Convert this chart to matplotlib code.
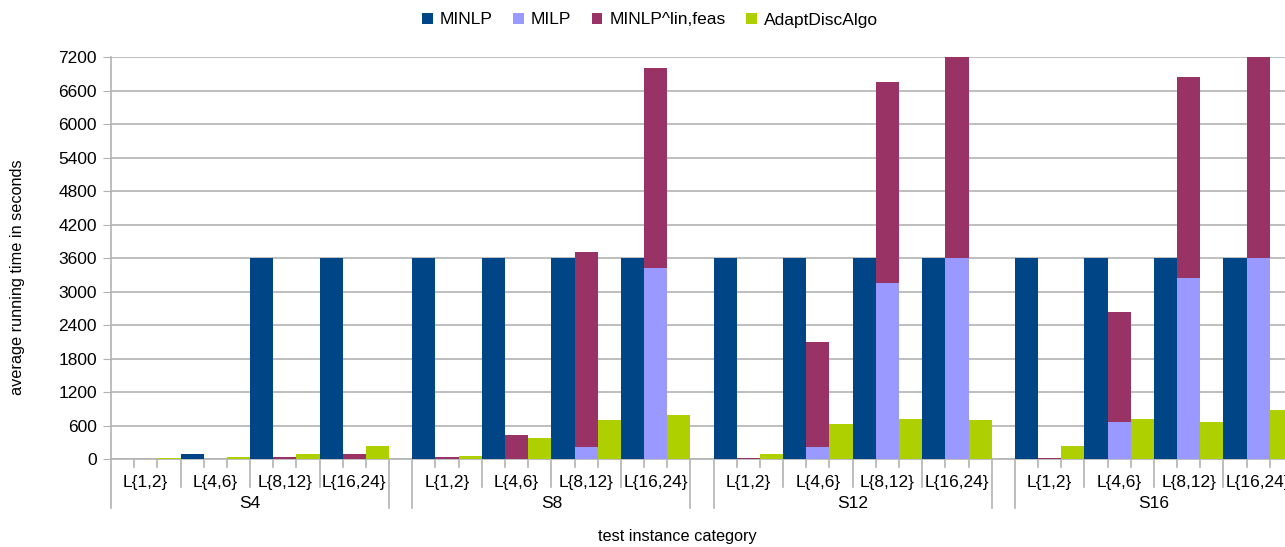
import numpy as np
import matplotlib.pyplot as plt

plt.rcParams['font.family'] = ['Liberation Sans', 'DejaVu Sans']

# Kategorien
gruppen = ["S4", "S8", "S12", "S16"]
kategorien = ["L{1,2}", "L{4,6}", "L{8,12}", "L{16,24}"]

# Werte je Gruppe (4 Kategorien pro Gruppe)
minlp = [1, 95, 3600, 3600,
         3600, 3600, 3600, 3600,
         3600, 3600, 3600, 3600,
         3600, 3600, 3600, 3600]
milp = [0, 0, 0, 0,
        0, 0, 221, 3418,
        0, 221, 3149, 3600,
        0, 669, 3250, 3600]
minlp_lin = [5, 0, 30, 90,
             30, 436, 3484, 3596,
             10, 1870, 3600, 3600,
             10, 1960, 3591, 3600]
adapt = [20, 40, 85, 227,
         48, 370, 699, 783,
         90, 633, 723, 705,
         233, 711, 663, 884]

farben = ["#004586", "#9999ff", "#993366", "#aecf00"]
grau = "#b3b3b3"

fig = plt.figure(figsize=(12.85, 5.47), dpi=100)
ax = fig.add_axes([111 / 1285, 88 / 547, 1182 / 1285, 401.7 / 547])

# Positionen: 3 Balken pro Kategorie, eine Lücke zwischen den Gruppen
n_kat = len(kategorien)
idx = np.arange(len(gruppen) * n_kat)
g = idx // n_kat
k = idx % n_kat
start = g * (3 * n_kat + 1) + k * 3

ax.bar(start + 0.5, minlp, width=1, color=farben[0], linewidth=0, label="MINLP", zorder=3)
ax.bar(start + 1.5, milp, width=1, color=farben[1], linewidth=0, label="MILP", zorder=3)
ax.bar(start + 1.5, minlp_lin, width=1, bottom=milp, color=farben[2], linewidth=0,
       label="MINLP^lin,feas", zorder=3)
ax.bar(start + 2.5, adapt, width=1, color=farben[3], linewidth=0, label="AdaptDiscAlgo", zorder=3)

ax.set_xlim(0, len(gruppen) * (3 * n_kat + 1) - 1)
ax.set_ylim(0, 7200)
ax.set_yticks(np.arange(0, 7201, 600))
ax.tick_params(axis="y", labelsize=12.5, length=6, color=grau, direction="out", pad=4)
ax.yaxis.grid(True, color=grau, linewidth=1.2, zorder=0)

for s in ["top", "right"]:
    ax.spines[s].set_visible(False)
ax.spines["left"].set_color(grau)
ax.spines["bottom"].set_color(grau)
ax.spines["left"].set_linewidth(1.2)
ax.spines["bottom"].set_linewidth(1.2)

# x-Achse: kurze Striche an Balkengrenzen, längere an Kategorie- und Gruppengrenzen
ax.set_xticks([])
trans = ax.get_xaxis_transform()
h = 401.7
for gi in range(len(gruppen)):
    g0 = gi * (3 * n_kat + 1)
    for b in range(3 * n_kat + 1):
        x = g0 + b
        if b == 0 or b == 3 * n_kat:
            y1 = -49 / h
        elif b % 3 == 0:
            y1 = -28 / h
        else:
            y1 = -8 / h
        ax.plot([x, x], [0, y1], color=grau, linewidth=1.2, transform=trans, clip_on=False)
    for ki, name in enumerate(kategorien):
        ax.text(g0 + ki * 3 + 1.5, -24 / h, name, transform=trans, ha="center", va="center",
                fontsize=12.5)
    ax.text(g0 + 1.5 * n_kat, -44 / h, gruppen[gi], transform=trans, ha="center", va="center",
            fontsize=12.5)

fig.text(18 / 1285, 1 - 277 / 547, "average running time in seconds", rotation=90,
         ha="center", va="center", fontsize=11.7)
fig.text(677 / 1285, 1 - 537 / 547, "test instance category", ha="center", va="center",
         fontsize=11.7)

fig.legend(loc="center", bbox_to_anchor=(650 / 1285, 1 - 20 / 547), ncol=4, frameon=False,
           fontsize=12.5, handlelength=0.6, handleheight=0.6, handletextpad=0.4,
           columnspacing=1.2)

fig.savefig("out.png", dpi=100)
